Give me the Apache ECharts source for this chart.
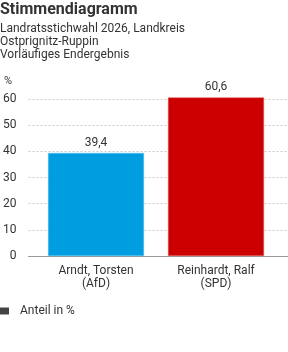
<!DOCTYPE html>
<html><head><meta charset="utf-8">
<script src="https://cdn.jsdelivr.net/npm/echarts@6/dist/echarts.min.js"></script>
<style>html,body{margin:0;padding:0;background:#fff}#c{width:288px;height:352px}</style>
</head><body><div id="c"></div>
<script>
const titleText = 'Stimmendiagramm';
const subtitleLines = ['Landratsstichwahl 2026, Landkreis', 'Ostprignitz-Ruppin', 'Vorläufiges Endergebnis'];
const categories = ['Arndt, Torsten\n(AfD)', 'Reinhardt, Ralf\n(SPD)'];
const values = [39.4, 60.6];
const barColors = ['#009ee0', '#cc0000'];
const seriesName = 'Anteil in %';
const yMin = 0, yMax = 60, yInterval = 10;

const font = 'Roboto, sans-serif';
const chart = echarts.init(document.getElementById('c'), null, {renderer: 'canvas'});
const gridTop = 99, gridBottom = 96;
chart.setOption({
  animation: false,
  textStyle: {fontFamily: font},
  title: {
    text: titleText,
    subtext: subtitleLines.join('\n'),
    left: 0, top: 2, padding: 0, itemGap: 4,
    textStyle: {fontSize: 16, fontWeight: 'bold', color: '#333', fontFamily: font},
    subtextStyle: {fontSize: 12, color: '#333', lineHeight: 13.3, fontFamily: font}
  },
  legend: {
    left: 0, top: 305, padding: 0,
    itemWidth: 9, itemHeight: 7, icon: 'rect',
    textStyle: {fontSize: 12, color: '#333', padding: [0, 0, 0, 6], fontFamily: font},
    data: [seriesName]
  },
  graphic: [{
    type: 'text', left: 4, top: 76,
    style: {text: '%', fontSize: 11, fill: '#333', fontFamily: font}
  }],
  grid: [
    {left: 24, right: 0, top: gridTop, bottom: gridBottom},
    {left: 36, right: 12, top: gridTop, bottom: gridBottom}
  ],
  xAxis: [
    {type: 'category', gridIndex: 0, data: [''], axisLabel: {show: false}, axisTick: {show: false},
     axisLine: {show: true, lineStyle: {color: '#999', width: 1}}},
    {type: 'category', gridIndex: 1, data: categories, axisTick: {show: false}, axisLine: {show: false},
     axisLabel: {fontSize: 12, color: '#333', lineHeight: 13, margin: 8, fontFamily: font}}
  ],
  yAxis: [
    {type: 'value', gridIndex: 0, min: yMin, max: yMax, interval: yInterval,
     axisLine: {show: false}, axisTick: {show: false},
     axisLabel: {fontSize: 12, color: '#333', margin: 12, fontFamily: font},
     splitLine: {lineStyle: {type: [2, 2], color: '#ccc', width: 1}}},
    {type: 'value', gridIndex: 1, min: yMin, max: yMax, interval: yInterval, show: false,
     splitLine: {show: false}}
  ],
  series: [{
    name: seriesName, type: 'bar', xAxisIndex: 1, yAxisIndex: 1,
    barWidth: 96, clip: false,
    itemStyle: {color: '#444'},
    data: values.map((v, i) => ({value: v, itemStyle: {color: barColors[i], borderColor: i ? '#e06060' : '#5cc0ee', borderWidth: 0.5}})),
    label: {show: true, position: 'top', distance: 4, fontSize: 12, color: '#333', fontFamily: font,
      formatter: p => String(p.value).replace('.', ',')}
  }]
});
</script></body></html>
